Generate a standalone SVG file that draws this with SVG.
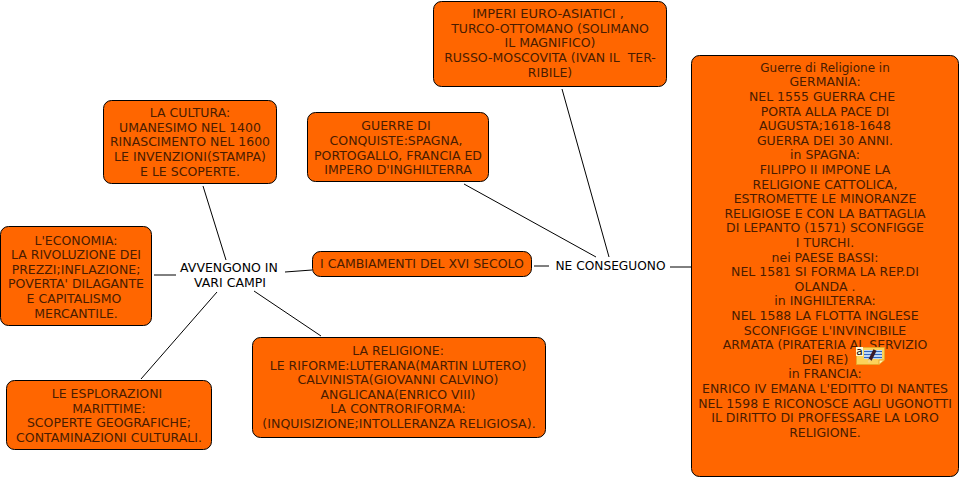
<svg xmlns="http://www.w3.org/2000/svg" width="961" height="479" viewBox="0 0 961 479">
<style>
.n{fill:#f60;stroke:#000;stroke-width:1}
text{font-family:"DejaVu Sans",Verdana,sans-serif;font-size:12.5px;text-anchor:middle;fill:#000;white-space:pre}
.o text{fill:#4a1c00}
.c line{stroke:#000;stroke-width:1}
</style>
<rect width="961" height="479" fill="#fff"/>
<g class="c" id="connectors">
<line x1="562" y1="89" x2="609" y2="257"/>
<line x1="464" y1="184" x2="596" y2="257"/>
<line x1="534" y1="266" x2="549" y2="266"/>
<line x1="670" y1="267" x2="691" y2="267"/>
<line x1="285" y1="272" x2="312" y2="270"/>
<line x1="203" y1="186" x2="226" y2="260"/>
<line x1="154" y1="275" x2="176" y2="275"/>
<line x1="217" y1="292" x2="141" y2="379"/>
<line x1="254" y1="291" x2="321" y2="336"/>
</g>
<g id="imperi" class="o"><rect class="n" x="433.500" y="1.500" width="233" height="85" rx="8"/>
<text x="548" y="18" style="font-size:13px">IMPERI EURO-ASIATICI ,</text><text x="550" y="33">TURCO-OTTOMANO (SOLIMANO</text><text x="550" y="47">IL MAGNIFICO)</text><text x="550" y="62">RUSSO-MOSCOVITA (IVAN IL  TER-</text><text x="550" y="77">RIBILE)</text></g>
<g id="guerre" class="o"><rect class="n" x="307.500" y="112.500" width="181" height="69" rx="8"/>
<text x="396" y="130">GUERRE DI</text><text x="396" y="145">CONQUISTE:SPAGNA,</text><text x="398" y="160">PORTOGALLO, FRANCIA ED</text><text x="398" y="174">IMPERO D'INGHILTERRA</text></g>
<g id="cultura" class="o"><rect class="n" x="103.500" y="100.500" width="173" height="83" rx="8"/>
<text x="190" y="117">LA CULTURA:</text><text x="190" y="132">UMANESIMO NEL 1400</text><text x="190" y="146">RINASCIMENTO NEL 1600</text><text x="190" y="161">LE INVENZIONI(STAMPA)</text><text x="190" y="176">E LE SCOPERTE.</text></g>
<g id="economia" class="o"><rect class="n" x="0.500" y="226.500" width="151" height="99" rx="8"/>
<text x="76" y="245">L'ECONOMIA:</text><text x="76" y="259">LA RIVOLUZIONE DEI</text><text x="76" y="274">PREZZI;INFLAZIONE;</text><text x="76" y="288">POVERTA' DILAGANTE</text><text x="74" y="303">E CAPITALISMO</text><text x="76" y="318">MERCANTILE.</text></g>
<g id="avvengono"><text x="229" y="272">AVVENGONO IN</text><text x="230" y="287">VARI CAMPI</text></g>
<g id="cambiamenti" class="o"><rect class="n" x="312.500" y="251.500" width="219" height="25" rx="8"/>
<text x="422" y="268">I CAMBIAMENTI DEL XVI SECOLO</text></g>
<g id="conseguono"><text x="610.500" y="270" style="font-size:12.2px">NE CONSEGUONO</text></g>
<g id="esplorazioni" class="o"><rect class="n" x="6.500" y="380.500" width="205" height="69" rx="8"/>
<text x="107" y="398">LE ESPLORAZIONI</text><text x="109" y="413">MARITTIME:</text><text x="109" y="427">SCOPERTE GEOGRAFICHE;</text><text x="109" y="442">CONTAMINAZIONI CULTURALI.</text></g>
<g id="religione" class="o"><rect class="n" x="252.500" y="337.500" width="293" height="100" rx="8"/>
<text x="398" y="355">LA RELIGIONE:</text><text x="398" y="370">LE RIFORME:LUTERANA(MARTIN LUTERO)</text><text x="398" y="384">CALVINISTA(GIOVANNI CALVINO)</text><text x="398" y="399">ANGLICANA(ENRICO VIII)</text><text x="398" y="413">LA CONTRORIFORMA:</text><text x="399" y="428" style="font-size:12.6px">(INQUISIZIONE;INTOLLERANZA RELIGIOSA).</text></g>
<g id="religione-guerre" class="o"><rect class="n" x="691.500" y="55.500" width="267" height="421" rx="8"/>
<text x="825" y="72" style="font-size:12px">Guerre di Religione in</text><text x="825" y="86">GERMANIA:</text><text x="822" y="101">NEL 1555 GUERRA CHE</text><text x="825" y="116">PORTA ALLA PACE DI</text><text x="825" y="130">AUGUSTA;1618-1648</text><text x="825" y="145">GUERRA DEI 30 ANNI.</text><text x="825" y="159">in SPAGNA:</text><text x="825" y="174">FILIPPO II IMPONE LA</text><text x="825" y="189">RELIGIONE CATTOLICA,</text><text x="825" y="203">ESTROMETTE LE MINORANZE</text><text x="825" y="218">RELIGIOSE E CON LA BATTAGLIA</text><text x="825" y="232">DI LEPANTO (1571) SCONFIGGE</text><text x="825" y="247">I TURCHI.</text><text x="825" y="262">nei PAESE BASSI:</text><text x="825" y="276">NEL 1581 SI FORMA LA REP.DI</text><text x="825" y="291">OLANDA .</text><text x="825" y="305">in INGHILTERRA:</text><text x="825" y="320">NEL 1588 LA FLOTTA INGLESE</text><text x="825" y="335">SCONFIGGE L'INVINCIBILE</text><text x="825" y="349">ARMATA (PIRATERIA AL SERVIZIO</text><text x="825" y="364">DEI RE)</text><text x="825" y="378">in FRANCIA:</text><text x="825" y="393">ENRICO IV EMANA L'EDITTO DI NANTES</text><text x="825" y="408">NEL 1598 E RICONOSCE AGLI UGONOTTI</text><text x="825" y="422">IL DIRITTO DI PROFESSARE LA LORO</text><text x="825" y="437">RELIGIONE.</text>
<g id="note-icon"><path d="M856.500 347.500H884.500V360L879 364.500H856.500Z" fill="#fcd25a" stroke="#e8a82a"/><path d="M884 360H879V364" fill="#fff2b8" stroke="#e8a82a"/><rect x="864" y="350" width="18" height="9" fill="#bcd6f5"/><path d="M864 351.500H882M864 354.500H882M864 357.500H882" stroke="#2f66c0"/><path d="M870 360L875 350" stroke="#3a1a28" stroke-width="3.500"/><path d="M868.500 362.500L870 359.500" stroke="#f5d58a" stroke-width="2"/><rect x="856" y="347" width="7" height="9" fill="#fff8d8"/><text x="859.500" y="355" style="font-size:10.500px;fill:#000">a</text></g></g>
</svg>
